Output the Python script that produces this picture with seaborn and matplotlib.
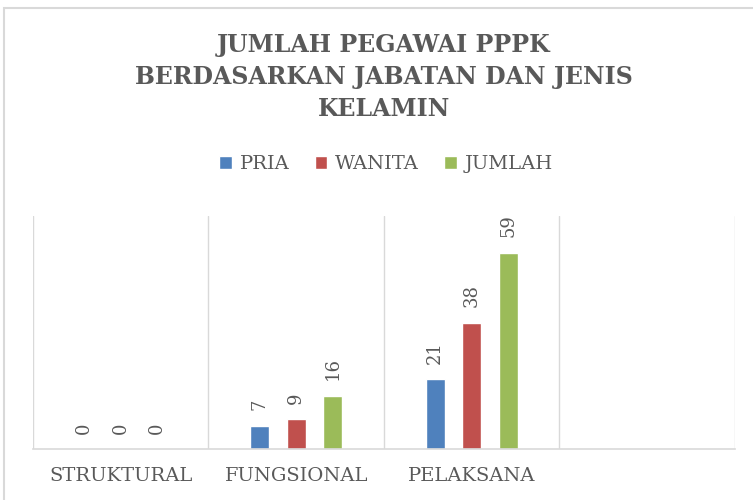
import pandas as pd
import matplotlib
matplotlib.use("Agg")
import matplotlib.pyplot as plt
import seaborn as sns
from matplotlib.patches import Rectangle

# =============================================================================
# Data
# =============================================================================
categories = ["STRUKTURAL", "FUNGSIONAL", "PELAKSANA", " "]
series = ["PRIA", "WANITA", "JUMLAH"]
pria = [0, 7, 21]
wanita = [0, 9, 38]
jumlah = [0, 16, 59]
colors = ["#4F81BD", "#C0504D", "#9BBB59"]

rows = []
for i, cat in enumerate(categories[:3]):
    rows.append({"kategori": cat, "jenis": "PRIA", "nilai": pria[i]})
    rows.append({"kategori": cat, "jenis": "WANITA", "nilai": wanita[i]})
    rows.append({"kategori": cat, "jenis": "JUMLAH", "nilai": jumlah[i]})
df = pd.DataFrame(rows)

# =============================================================================
# Plot
# =============================================================================
sns.set_style("white")
plt.rcParams["font.family"] = ["DejaVu Serif"]
text_col = "#595959"
grid_col = "#D9D9D9"

fig = plt.figure(figsize=(7.53, 5.0), dpi=100)
ax = fig.add_axes([33 / 753, 1 - 449 / 500, (735 - 33) / 753, (449 - 216) / 500])

sns.barplot(data=df, x="kategori", y="nilai", hue="jenis", order=categories,
            hue_order=series, palette=colors, width=0.625, gap=0.48,
            saturation=1, ax=ax, legend=True)

for cont in ax.containers:
    ax.bar_label(cont, rotation=90, padding=11, fontsize=13, color=text_col)

ax.set_xlim(-0.5, 3.5)
ax.set_ylim(0, 70)
ax.set_xlabel("")
ax.set_ylabel("")
ax.set_yticks([])
ax.set_xticks(range(4))
ax.set_xticklabels(categories, fontsize=14, color=text_col)
ax.tick_params(axis="x", length=0, pad=13)
ax.set_xticks([-0.5, 0.5, 1.5, 2.5, 3.5], minor=True)
ax.tick_params(axis="x", which="minor", length=0)
ax.grid(True, axis="x", which="minor", color=grid_col, linewidth=1)
ax.grid(False, axis="x", which="major")
for side in ["top", "left", "right"]:
    ax.spines[side].set_visible(False)
ax.spines["bottom"].set_color(grid_col)
ax.spines["bottom"].set_linewidth(1.2)

# legend
handles, labels = ax.get_legend_handles_labels()
ax.legend_.remove()
fig.legend(handles, labels, loc="center", bbox_to_anchor=(386 / 753, 1 - 164 / 500),
           ncol=3, frameon=False, fontsize=14, handlelength=0.65, handleheight=0.65,
           handletextpad=0.4, columnspacing=1.3, labelcolor=text_col)

# title
fig.text(384 / 753, 1 - 77 / 500,
         "JUMLAH PEGAWAI PPPK\nBERDASARKAN JABATAN DAN JENIS\nKELAMIN",
         ha="center", va="center", fontsize=17, fontweight="bold",
         color=text_col, linespacing=1.42)

# chart border
fig.patches.append(Rectangle((4 / 753, -0.1), 1.2, 1 - 8 / 500 + 0.1,
                             transform=fig.transFigure, fill=False,
                             edgecolor=grid_col, linewidth=1.5))

fig.savefig("out.png", dpi=100)
